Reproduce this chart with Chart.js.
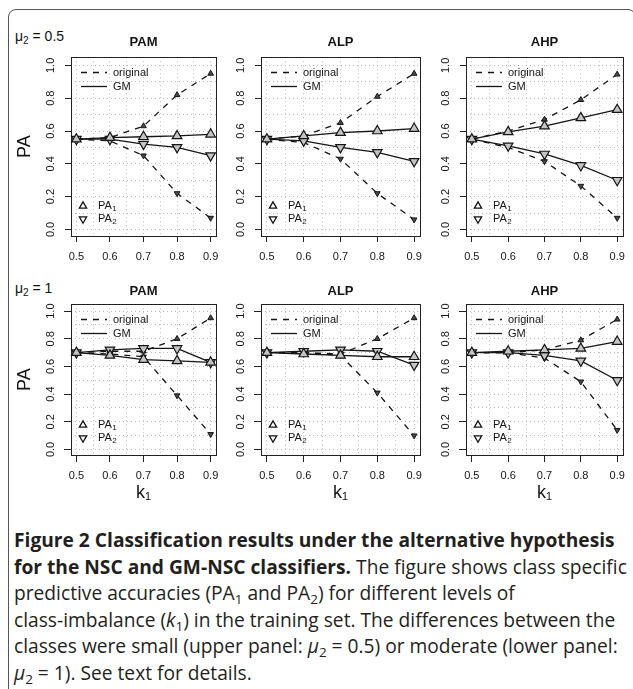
<!DOCTYPE html>
<html>
<head>
<meta charset="utf-8">
<script src="https://cdn.jsdelivr.net/npm/chart.js@4.4.1/dist/chart.umd.min.js"></script>
<style>
  html, body { margin: 0; padding: 0; background: #fff; overflow: hidden; }
  body { width: 633px; height: 689px; position: relative; font-family: "Liberation Sans", Arial, sans-serif; color: #111; }
  #frame { position: absolute; left: 8px; top: 9px; width: 626px; height: 720px; border: 1px solid #555; border-radius: 8px; }
  canvas { position: absolute; }
  .mu { position: absolute; left: 15px; font-size: 14px; line-height: 16px; white-space: nowrap; }
  .mu sub { font-size: 10px; vertical-align: baseline; position: relative; top: 3px; }
  #caption { position: absolute; left: 14px; top: 527px; font-family: "Open Sans", sans-serif; font-size: 19.2px; line-height: 26.6px; color: #231f20; white-space: nowrap; }
  #caption b { font-weight: 700; }
  #caption sub { font-size: 0.7em; vertical-align: baseline; position: relative; top: 0.3em; line-height: 0; }
</style>
</head>
<body>
<div id="frame"></div>
<div class="mu" style="top:28px">&mu;<sub>2</sub> = 0.5</div>
<div class="mu" style="top:280px">&mu;<sub>2</sub> = 1</div>
<div id="caption">
<b>Figure 2 Classification results under the alternative hypothesis</b><br>
<b>for the NSC and GM-NSC classifiers.</b> The figure shows class specific<br>
predictive accuracies (PA<sub>1</sub> and PA<sub>2</sub>) for different levels of<br>
class-imbalance (<i>k</i><sub>1</sub>) in the training set. The differences between the<br>
classes were small (upper panel: <i>&mu;</i><sub>2</sub> = 0.5) or moderate (lower panel:<br>
<i>&mu;</i><sub>2</sub> = 1). See text for details.
</div>
<script>
// k1 levels (x axis)
const K1 = [0.5, 0.6, 0.7, 0.8, 0.9];
const X_TICKS = [0.5, 0.6, 0.7, 0.8, 0.9];
const X_TICK_LABELS = ["0.5", "0.6", "0.7", "0.8", "0.9"];
const X_GRID = [0.5, 0.55, 0.6, 0.65, 0.7, 0.75, 0.8, 0.85, 0.9];
const Y_TICKS = [0, 0.2, 0.4, 0.6, 0.8, 1.0];
const Y_TICK_LABELS = ["0.0", "0.2", "0.4", "0.6", "0.8", "1.0"];
const Y_GRID = [0, 0.1, 0.2, 0.3, 0.4, 0.5, 0.6, 0.7, 0.8, 0.9, 1.0];

const METHODS = ["PAM", "ALP", "AHP"];

// upper panel: mu2 = 0.5
const PAM_05_ORIG_PA1 = [0.55, 0.56, 0.63, 0.82, 0.95];
const PAM_05_ORIG_PA2 = [0.55, 0.54, 0.45, 0.22, 0.07];
const PAM_05_GM_PA1 = [0.55, 0.56, 0.565, 0.57, 0.58];
const PAM_05_GM_PA2 = [0.55, 0.55, 0.52, 0.50, 0.45];

const ALP_05_ORIG_PA1 = [0.55, 0.57, 0.65, 0.81, 0.95];
const ALP_05_ORIG_PA2 = [0.55, 0.53, 0.43, 0.22, 0.06];
const ALP_05_GM_PA1 = [0.55, 0.57, 0.59, 0.60, 0.615];
const ALP_05_GM_PA2 = [0.55, 0.54, 0.50, 0.47, 0.415];

const AHP_05_ORIG_PA1 = [0.55, 0.60, 0.67, 0.79, 0.945];
const AHP_05_ORIG_PA2 = [0.55, 0.50, 0.415, 0.265, 0.07];
const AHP_05_GM_PA1 = [0.55, 0.595, 0.63, 0.68, 0.73];
const AHP_05_GM_PA2 = [0.55, 0.51, 0.46, 0.39, 0.30];

// lower panel: mu2 = 1
const PAM_1_ORIG_PA1 = [0.70, 0.71, 0.71, 0.80, 0.95];
const PAM_1_ORIG_PA2 = [0.70, 0.69, 0.67, 0.39, 0.11];
const PAM_1_GM_PA1 = [0.70, 0.68, 0.65, 0.64, 0.63];
const PAM_1_GM_PA2 = [0.70, 0.72, 0.73, 0.73, 0.63];

const ALP_1_ORIG_PA1 = [0.70, 0.70, 0.69, 0.80, 0.95];
const ALP_1_ORIG_PA2 = [0.70, 0.70, 0.68, 0.41, 0.10];
const ALP_1_GM_PA1 = [0.70, 0.69, 0.68, 0.67, 0.67];
const ALP_1_GM_PA2 = [0.70, 0.71, 0.72, 0.71, 0.61];

const AHP_1_ORIG_PA1 = [0.70, 0.70, 0.72, 0.79, 0.94];
const AHP_1_ORIG_PA2 = [0.70, 0.70, 0.66, 0.49, 0.14];
const AHP_1_GM_PA1 = [0.70, 0.71, 0.72, 0.73, 0.78];
const AHP_1_GM_PA2 = [0.70, 0.70, 0.68, 0.64, 0.50];

const PANEL_DATA = [
  [
    [PAM_05_ORIG_PA1, PAM_05_ORIG_PA2, PAM_05_GM_PA1, PAM_05_GM_PA2],
    [ALP_05_ORIG_PA1, ALP_05_ORIG_PA2, ALP_05_GM_PA1, ALP_05_GM_PA2],
    [AHP_05_ORIG_PA1, AHP_05_ORIG_PA2, AHP_05_GM_PA1, AHP_05_GM_PA2],
  ],
  [
    [PAM_1_ORIG_PA1, PAM_1_ORIG_PA2, PAM_1_GM_PA1, PAM_1_GM_PA2],
    [ALP_1_ORIG_PA1, ALP_1_ORIG_PA2, ALP_1_GM_PA1, ALP_1_GM_PA2],
    [AHP_1_ORIG_PA1, AHP_1_ORIG_PA2, AHP_1_GM_PA1, AHP_1_GM_PA2],
  ],
];

// layout of the 2 x 3 grid of panels
const ROWS = [
  { top: 18, height: 248, titlePad: { top: 16.8, bottom: 6.8 }, xAxisH: 30, tickLen: 6, xPad: 8.4, xTitle: false },
  { top: 268, height: 244, titlePad: { top: 15.8, bottom: 4.8 }, xAxisH: 57, tickLen: 7, xPad: 7.4, xTitle: true },
];
const COLS = [
  { left: 10, width: 218, yAxisW: 61, yTitle: true },
  { left: 228, width: 204, yAxisW: 33, yTitle: false },
  { left: 428, width: 207, yAxisW: 38, yTitle: false },
];

const DASH = [6, 6];
const INK = "#151515";
const FONT = '"Liberation Sans", Arial, sans-serif';

Chart.defaults.font.family = FONT;
Chart.defaults.color = INK;

const near = (a, b) => Math.abs(a - b) < 1e-6;
const tickIndex = (list, v) => list.findIndex((t) => near(t, v));

// box round the plot region, like R's box()
const boxPlugin = {
  id: "rBox",
  beforeDatasetsDraw(chart) {
    const { ctx, chartArea: a } = chart;
    ctx.save();
    ctx.strokeStyle = "#222";
    ctx.lineWidth = 1;
    ctx.strokeRect(Math.round(a.left) + 0.5, Math.round(a.top) + 0.5, Math.round(a.width), Math.round(a.height));
    ctx.restore();
  },
};

function drawSubLabel(ctx, main, sub, x, y) {
  ctx.font = "11px " + FONT;
  ctx.fillText(main, x, y);
  const w = ctx.measureText(main).width;
  ctx.font = "8px " + FONT;
  ctx.fillText(sub, x + w + 0.5, y + 3);
}

// the two keys drawn inside each panel
const keyPlugin = {
  id: "rKeys",
  afterDatasetsDraw(chart) {
    const { ctx, chartArea: a } = chart;
    ctx.save();
    ctx.fillStyle = INK;
    ctx.strokeStyle = INK;
    ctx.textBaseline = "middle";
    ctx.textAlign = "left";
    ctx.font = "11px " + FONT;
    [["original", DASH], ["GM", []]].forEach(([label, dash], i) => {
      const y = Math.round(a.top + 15 + i * 13.5) + 0.5;
      ctx.lineWidth = 1.3;
      ctx.setLineDash(dash);
      ctx.beginPath();
      ctx.moveTo(a.left + 10, y);
      ctx.lineTo(a.left + 36, y);
      ctx.stroke();
      ctx.setLineDash([]);
      ctx.fillText(label, a.left + 42, y);
    });
    [["1", 0], ["2", 180]].forEach(([sub, rot], i) => {
      const y = a.bottom - 30 + i * 13;
      ctx.fillStyle = "#fff";
      ctx.lineWidth = 1.3;
      Chart.helpers.drawPoint(ctx, { pointStyle: "triangle", radius: 4.2, rotation: rot, borderWidth: 1.3 }, a.left + 12, y);
      ctx.fillStyle = INK;
      drawSubLabel(ctx, "PA", sub, a.left + 27, y);
    });
    ctx.restore();
  },
};

function series(values, isGM, down, order) {
  return {
    data: K1.map((k, i) => ({ x: k, y: values[i] })),
    borderColor: INK,
    borderWidth: 1.3,
    borderDash: isGM ? [] : DASH,
    pointStyle: "triangle",
    pointRotation: down ? 180 : 0,
    pointRadius: isGM ? 5.5 : 3.3,
    pointBackgroundColor: isGM ? "#c4c4c4" : "#4a4a4a",
    pointBorderColor: INK,
    pointBorderWidth: isGM ? 1.2 : 1,
    tension: 0,
    clip: false,
    order: order,
  };
}

function makePanel(r, c) {
  const row = ROWS[r];
  const col = COLS[c];
  const canvas = document.createElement("canvas");
  canvas.width = col.width;
  canvas.height = row.height;
  canvas.style.left = col.left + "px";
  canvas.style.top = row.top + "px";
  document.body.appendChild(canvas);

  const [oPA1, oPA2, gPA1, gPA2] = PANEL_DATA[r][c];
  const yPad = 20 - row.tickLen - 7.6;

  new Chart(canvas.getContext("2d"), {
    type: "line",
    data: {
      datasets: [
        series(gPA1, true, false, 1),
        series(gPA2, true, true, 2),
        series(oPA1, false, false, 3),
        series(oPA2, false, true, 4),
      ],
    },
    options: {
      responsive: false,
      animation: false,
      events: [],
      layout: { padding: { left: 0, right: 12, top: 0, bottom: 0 } },
      scales: {
        x: {
          type: "linear",
          min: 0.484,
          max: 0.916,
          afterBuildTicks: (s) => { s.ticks = X_GRID.map((v) => ({ value: v })); },
          afterFit: (s) => { s.height = row.xAxisH; },
          ticks: {
            autoSkip: false,
            maxRotation: 0,
            padding: row.xPad,
            font: { size: 11 },
            callback: (v) => { const i = tickIndex(X_TICKS, v); return i < 0 ? "" : X_TICK_LABELS[i]; },
          },
          grid: {
            color: "#bdbdbd",
            lineWidth: 1,
            tickLength: row.tickLen,
            tickColor: (ctx) => (tickIndex(X_TICKS, ctx.tick.value) < 0 ? "rgba(0,0,0,0)" : "#222"),
            tickBorderDash: [],
          },
          border: { display: false, dash: [1, 3] },
          title: {
            display: row.xTitle,
            text: "k\u2081",
            font: { size: 18 },
            padding: { top: 0, bottom: 8 },
          },
        },
        y: {
          type: "linear",
          min: -0.04,
          max: 1.05,
          afterBuildTicks: (s) => { s.ticks = Y_GRID.map((v) => ({ value: v })); },
          afterFit: (s) => { s.width = col.yAxisW; },
          ticks: {
            autoSkip: false,
            minRotation: 90,
            maxRotation: 90,
            crossAlign: "center",
            padding: yPad,
            font: { size: 11 },
            callback: (v) => { const i = tickIndex(Y_TICKS, v); return i < 0 ? "" : Y_TICK_LABELS[i]; },
          },
          grid: {
            color: "#bdbdbd",
            lineWidth: 1,
            tickLength: row.tickLen,
            tickColor: (ctx) => (tickIndex(Y_TICKS, ctx.tick.value) < 0 ? "rgba(0,0,0,0)" : "#222"),
            tickBorderDash: [],
          },
          border: { display: false, dash: [1, 3] },
          title: {
            display: col.yTitle,
            text: "PA",
            font: { size: 18 },
            padding: { top: 4, bottom: 0 },
          },
        },
      },
      plugins: {
        legend: { display: false },
        tooltip: { enabled: false },
        title: {
          display: true,
          text: METHODS[c],
          fullSize: false,
          color: INK,
          font: { size: 13, weight: "bold" },
          padding: row.titlePad,
        },
      },
    },
    plugins: [boxPlugin, keyPlugin],
  });
}

for (let r = 0; r < ROWS.length; r++) {
  for (let c = 0; c < COLS.length; c++) makePanel(r, c);
}
</script>
</body>
</html>
